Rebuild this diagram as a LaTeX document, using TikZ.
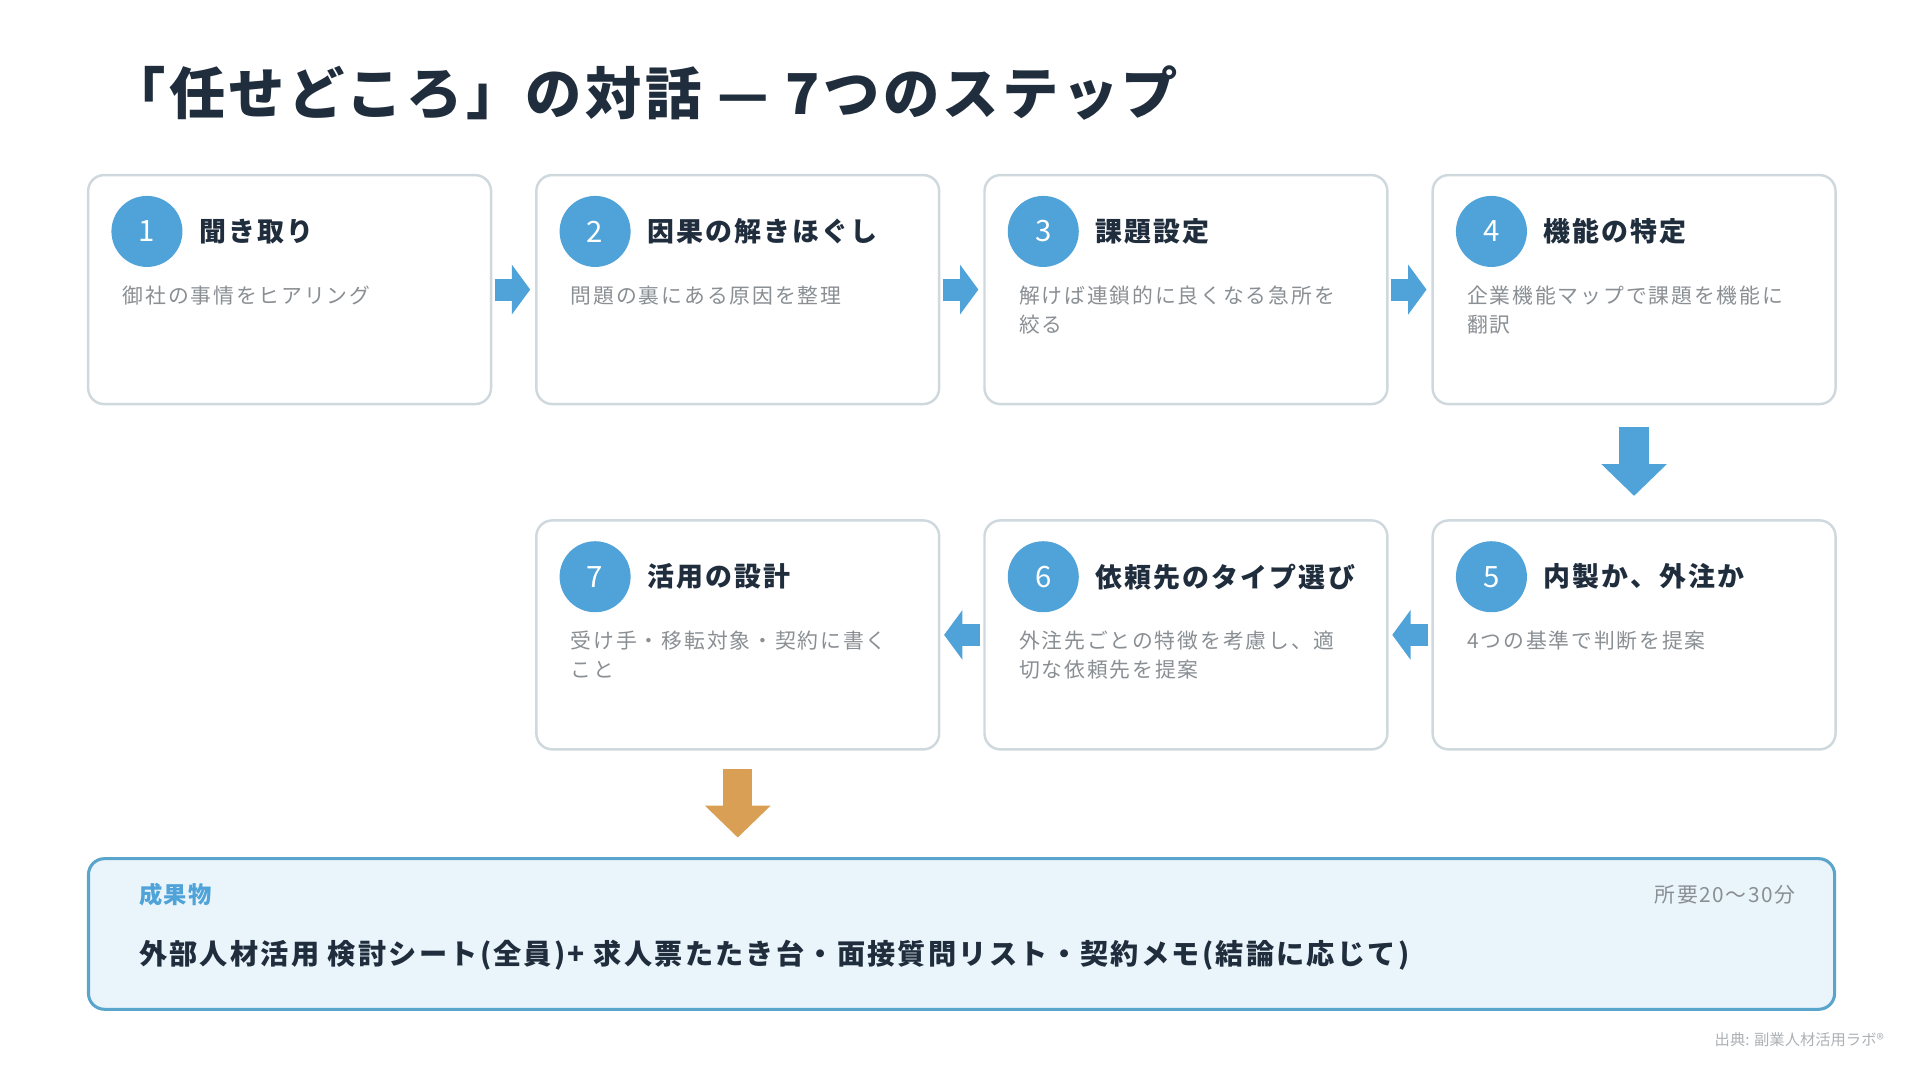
\documentclass[tikz,border=0pt]{standalone}
\usepackage{fontspec}
\setmainfont{Noto Sans CJK JP}
\usetikzlibrary{arrows.meta}
\definecolor{ink}{HTML}{1F2D3D}
\definecolor{stepblue}{HTML}{4FA3D8}
\definecolor{frame}{HTML}{CFD8DC}
\definecolor{note}{HTML}{8A8F94}
\definecolor{outfill}{HTML}{EAF5FB}
\definecolor{outline}{HTML}{5AA5CC}
\definecolor{gold}{HTML}{D9A055}
\newcommand\spaced[1]{\addfontfeature{LetterSpace=#1}}
\tikzset{
  stepbox/.style={draw=frame, line width=2pt, rounded corners=13pt, fill=white,
    minimum width=329pt, minimum height=187pt, anchor=north west},
  num/.style={circle, fill=stepblue, minimum size=58pt, inner sep=0pt,
    text=white, font=\fontsize{24}{24}\selectfont},
  head/.style={anchor=west, text=ink, font=\bfseries\fontsize{22}{22}\selectfont\spaced{8}},
  desc/.style={anchor=north west, text=note, align=left,
    inner sep=0pt, font=\fontsize{17}{24}\selectfont\spaced{9}},
  flow/.style={draw=stepblue, line width=18pt, -{Triangle[width=40pt,length=15pt]}},
  drop/.style={line width=24pt, -{Triangle[width=52pt,length=26pt]}}
}
\begin{document}
\begin{tikzpicture}[x=1pt,y=-1pt]
\useasboundingbox (0,0) rectangle (1568,882);

\node[anchor=west, text=ink, font=\bfseries\fontsize{46}{46}\selectfont\spaced{6}]
  (title) at (86,76) {「任せどころ」の対話 — 7つのステップ};

% steps
\foreach \n/\x/\y/\h/\d in {
  1/71/142/聞き取り/御社の事情をヒアリング,
  2/437/142/因果の解きほぐし/問題の裏にある原因を整理,
  3/803/142/課題設定/解けば連鎖的に良くなる急所を\\絞る,
  4/1169/142/機能の特定/企業機能マップで課題を機能に\\翻訳,
  5/1169/424/内製か、外注か/4つの基準で判断を提案,
  6/803/424/依頼先のタイプ選び/外注先ごとの特徴を考慮し、適\\切な依頼先を提案,
  7/437/424/活用の設計/受け手・移転対象・契約に書く\\こと} {
    \node[stepbox] (s\n) at (\x,\y) {};
    \node[num] (n\n) at (\x+49,\y+47) {\n};
    \node[head] (h\n) at (\x+88,\y+47) {\h};
    \node[desc] (d\n) at (\x+29,\y+91) {\d};
}

% connectors
\foreach \a/\b in {1/2,2/3,3/4}
  \draw[flow, shorten <=2pt, shorten >=4pt] (s\a.east) -- (s\b.west);
\foreach \a/\b in {5/6,6/7}
  \draw[flow, shorten <=3pt, shorten >=3pt] (s\a.west) -- (s\b.east);
\draw[drop, draw=stepblue, shorten <=18pt, shorten >=19pt] (s4.south) -- (s5.north);

% result
\node[draw=outline, line width=2.5pt, fill=outfill, rounded corners=13pt,
  minimum width=1426pt, minimum height=123pt, anchor=north west] (out) at (71,700) {};
\draw[drop, draw=gold, shorten <=15pt, shorten >=16pt] (s7.south) -- (s7.south |- out.north);
\node[anchor=west, text=stepblue, font=\bfseries\fontsize{19}{19}\selectfont\spaced{6}]
  (outhead) at (110,731) {成果物};
\node[anchor=east, text=note, font=\fontsize{17}{17}\selectfont\spaced{8}]
  (time) at (1470,731) {所要20〜30分};
\node[anchor=west, text=ink, font=\bfseries\fontsize{23}{23}\selectfont\spaced{8}]
  (outtext) at (110,780) {外部人材活用 検討シート(全員)+ 求人票たたき台・面接質問リスト・契約メモ(結論に応じて)};

\node[anchor=east, text=note!70, font=\fontsize{12.5}{12.5}\selectfont]
  (src) at (1542,849) {出典: 副業人材活用ラボ®};
\end{tikzpicture}
\end{document}
